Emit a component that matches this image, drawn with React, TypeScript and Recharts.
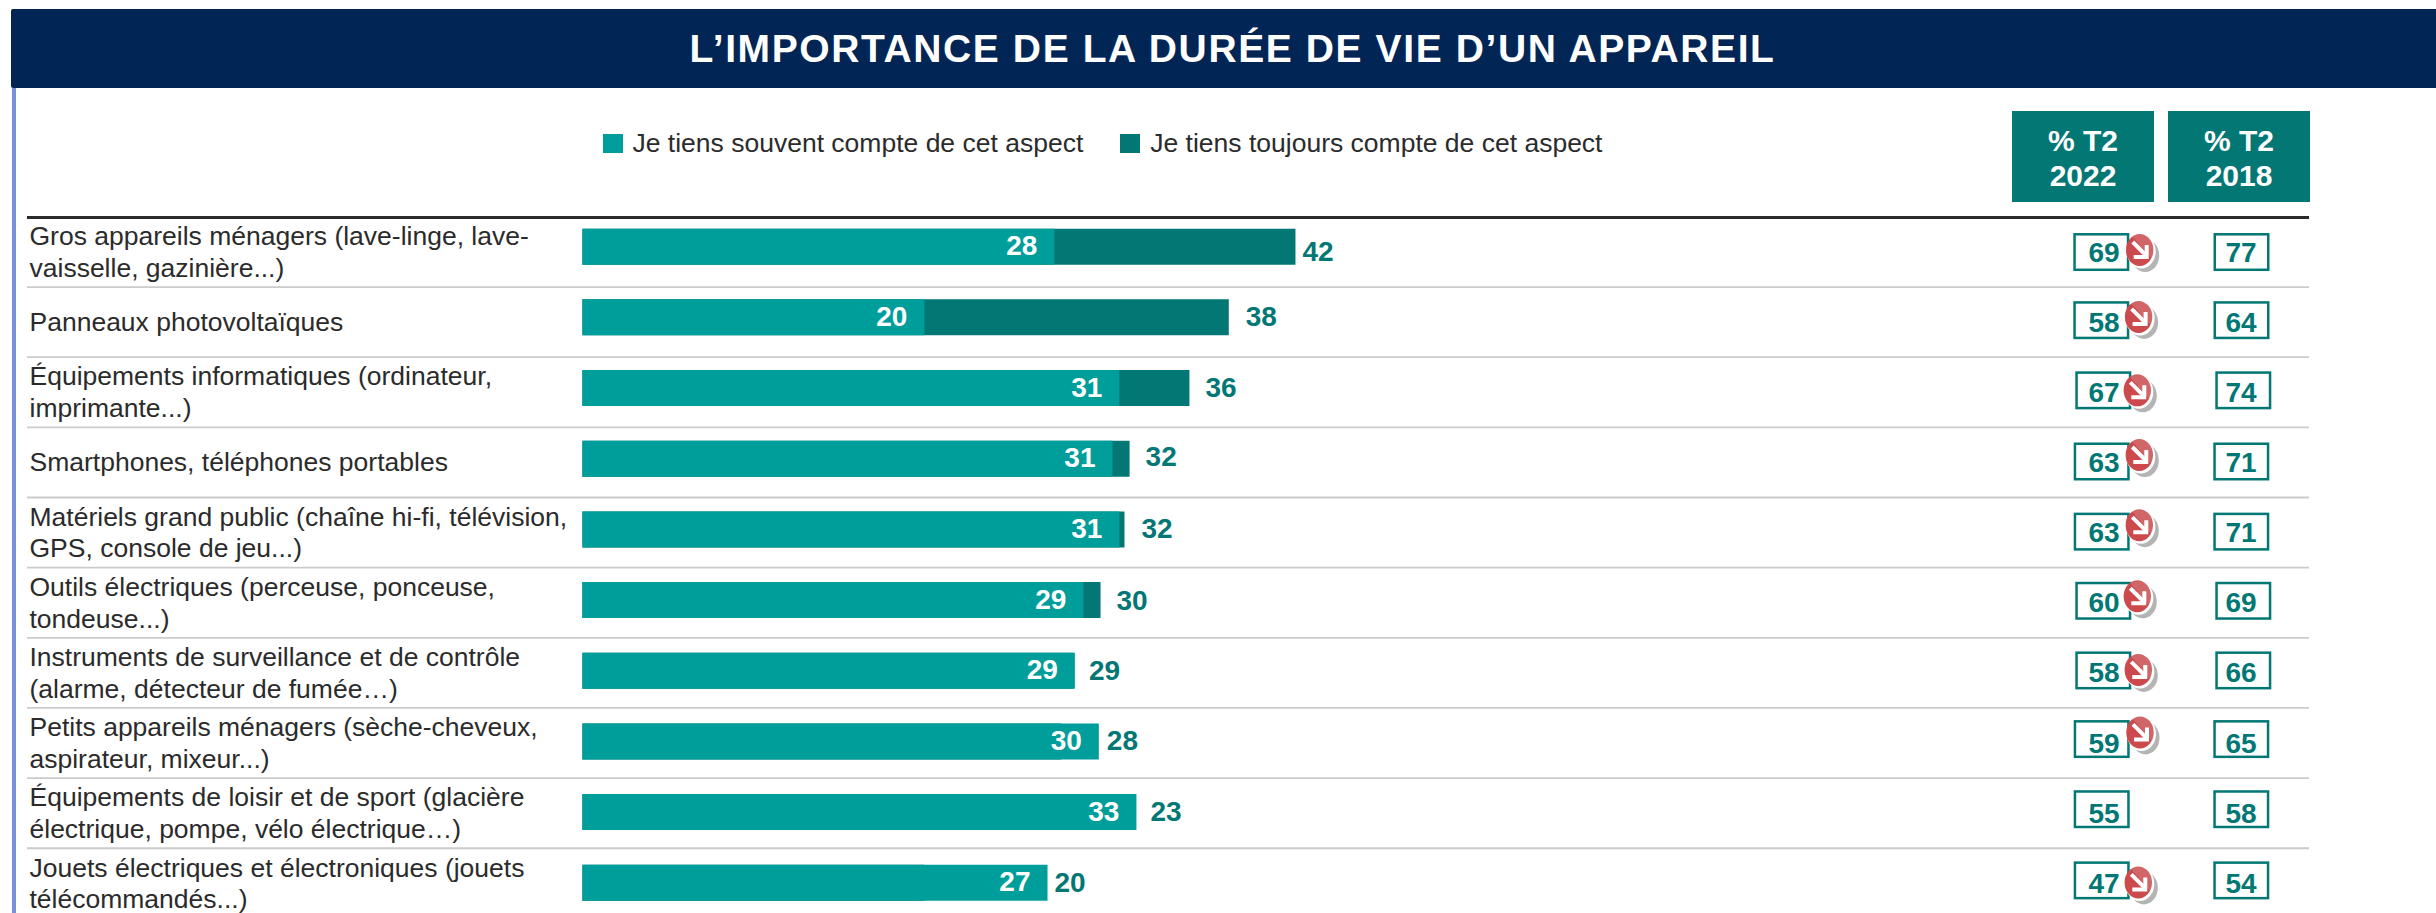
import { Bar, BarChart, LabelList, Legend, XAxis, YAxis } from 'recharts';

// bar lengths are read from the picture, the printed labels do not always round to them
const categories = [
  'Gros appareils ménagers (lave-linge, lave-\nvaisselle, gazinière...)',
  'Panneaux photovoltaïques',
  'Équipements informatiques (ordinateur,\nimprimante...)',
  'Smartphones, téléphones portables',
  'Matériels grand public (chaîne hi-fi, télévision,\nGPS, console de jeu...)',
  'Outils électriques (perceuse, ponceuse,\ntondeuse...)',
  'Instruments de surveillance et de contrôle\n(alarme, détecteur de fumée…)',
  'Petits appareils ménagers (sèche-cheveux,\naspirateur, mixeur...)',
  'Équipements de loisir et de sport (glacière\nélectrique, pompe, vélo électrique…)',
  'Jouets électriques et électroniques (jouets\ntélécommandés...)',
];
const souvent = [27.6, 20.0, 31.4, 31.0, 31.4, 29.3, 28.8, 30.2, 32.4, 27.2];
const toujours = [41.7, 37.8, 35.5, 32.0, 31.7, 30.3, 28.7, 28.0, 23.0, 20.0];
const souventLabels = [28, 20, 31, 31, 31, 29, 29, 30, 33, 27];
const toujoursLabels = [42, 38, 36, 32, 32, 30, 29, 28, 23, 20];
const t2_2022 = [69, 58, 67, 63, 63, 60, 58, 59, 55, 47];
const t2_2018 = [77, 64, 74, 71, 71, 69, 66, 65, 58, 54];
const baisse = [true, true, true, true, true, true, true, true, false, true];

const SOUVENT_NAME = 'Je tiens souvent compte de cet aspect';
const TOUJOURS_NAME = 'Je tiens toujours compte de cet aspect';

// hand placed offsets of the original slide, per row
const outerGap = [7, 17, 16, 16, 17, 16, 14, 8, 14, 7];
const outerDy = [5, -1, -1, -2, -1, 0, 0, -1, -1, 0];
const boxDy = [0, -2, -2, -1, -1, -2, -2.5, -4, -4, -3];
const box22Dx = [0, 0, 2, 0.4, 0.4, 2, 2, 0.4, 0.4, 0.4];
const box18Dx = [0, 0, 1.8, -0.2, -0.2, 1.8, 1.8, -0.2, -0.2, -0.2];
const arrowDx = [10.4, 9.3, 6, 9.6, 9.6, 6, 7, 10.3, 0, 8.6];
const arrowDy = [-2, -3.3, 0, -6.5, -6.5, -4.5, -0.5, -6.7, 0, 2];

const FONT = '"Liberation Sans", Arial, sans-serif';
const LIGHT = '#009e9b';
const DARK = '#027774';

const chartData = categories.map((name, i) => ({
  name,
  souvent: souvent[i],
  toujours: toujours[i],
}));

function ValueBox({ x, cy, textX, textY, value }: any) {
  return (
    <g>
      <rect x={x + 1.25} y={cy - 17.75} width={53.5} height={35.5} fill="none" stroke={DARK} strokeWidth={2.5} />
      <text
        x={textX}
        y={textY}
        textAnchor="middle"
        dominantBaseline="central"
        fontFamily={FONT}
        fontSize={28}
        fontWeight={700}
        fill={DARK}
      >
        {value}
      </text>
    </g>
  );
}

function DownBadge({ cx, cy, id }: any) {
  return (
    <g transform={`translate(${cx},${cy})`}>
      <defs>
        <linearGradient id={id} x1="1" y1="0" x2="0" y2="1">
          <stop offset="0.42" stopColor="#d06668" />
          <stop offset="0.42" stopColor="#cc4a4d" />
        </linearGradient>
      </defs>
      <ellipse cx={5.5} cy={5.5} rx={14} ry={16.5} fill="#b4b4b4" />
      <ellipse cx={1.5} cy={1.5} rx={14.5} ry={17} fill="#fff" />
      <ellipse cx={0} cy={0} rx={13.7} ry={16} fill={`url(#${id})`} />
      <line x1={-7} y1={-8} x2={6} y2={5} stroke="#fff" strokeWidth={4} />
      <polyline points="7,-5 7,7 -6,7" fill="none" stroke="#fff" strokeWidth={4} />
    </g>
  );
}

// one table row: category text, separator, and the two % T2 columns
function RowTick(props: any) {
  const { y, index, payload } = props;
  const rowY = y + 5 - 0.52 * index;
  const lines = String(payload.value).split('\n');
  const boxY = rowY + boxDy[index];
  const left22 = 2073.3 + box22Dx[index];
  const left18 = 2213.5 + box18Dx[index];
  return (
    <g>
      <text fontFamily={FONT} fontSize={26.5} fill="#2b2b2b" dominantBaseline="central">
        {lines.map((line, i) => (
          <tspan key={i} x={29.5} y={rowY + (i - (lines.length - 1) / 2) * 31.7}>
            {line}
          </tspan>
        ))}
      </text>
      <line x1={27} x2={2309} y1={rowY + 35} y2={rowY + 35} stroke="#cbcbcb" strokeWidth={1.8} />
      <ValueBox x={left22} cy={boxY} textX={2104} textY={rowY} value={t2_2022[index]} />
      <ValueBox x={left18} cy={boxY} textX={2241} textY={rowY} value={t2_2018[index]} />
      {baisse[index] && (
        <DownBadge cx={left22 + 56 + arrowDx[index]} cy={boxY + arrowDy[index]} id={`baisse-${index}`} />
      )}
    </g>
  );
}

// both labels hang on the front bar, the outer one sits past whichever bar is longer
function RowLabels(props: any) {
  const { x, y, width, height, index } = props;
  const perUnit = width / souvent[index];
  const end = x + Math.max(souvent[index], toujours[index]) * perUnit;
  const midY = y + height / 2;
  return (
    <g fontFamily={FONT} fontSize={28} fontWeight={700}>
      <text x={x + width - 17} y={midY - 1} textAnchor="end" dominantBaseline="central" fill="#fff">
        {souventLabels[index]}
      </text>
      <text x={end + outerGap[index]} y={midY + outerDy[index]} dominantBaseline="central" fill={DARK}>
        {toujoursLabels[index]}
      </text>
    </g>
  );
}

function LegendRow({ payload }: any) {
  const items = [...(payload ?? [])].sort((a, b) => (a.value === SOUVENT_NAME ? -1 : b.value === SOUVENT_NAME ? 1 : 0));
  return (
    <div style={{ display: 'flex', fontFamily: FONT, fontSize: 26.5, color: '#2b2b2b', lineHeight: '30px' }}>
      {items.map((item: any, i: number) => (
        <div key={item.value} style={{ display: 'flex', alignItems: 'center', marginLeft: i ? 37 : 0, whiteSpace: 'nowrap' }}>
          <span style={{ width: 20, height: 19, background: item.color, marginRight: 10 }} />
          {item.value}
        </div>
      ))}
    </div>
  );
}

const headBox = (left: number, lines: string[]) => (
  <div
    style={{
      position: 'absolute',
      left,
      top: 111,
      width: 142,
      height: 91,
      background: DARK,
      color: '#fff',
      fontFamily: FONT,
      fontWeight: 700,
      fontSize: 30,
      lineHeight: '35px',
      textAlign: 'center',
      paddingTop: 12,
      boxSizing: 'border-box',
    }}
  >
    {lines.map((l) => (
      <div key={l}>{l}</div>
    ))}
  </div>
);

export default function App() {
  return (
    <div style={{ position: 'absolute', left: 0, top: 0, width: 2436, height: 913, overflow: 'hidden', background: '#fff' }}>
      <div style={{ position: 'absolute', left: 12, top: 88, width: 4, height: 825, background: '#7b90dd' }} />
      <div
        style={{
          position: 'absolute',
          left: 11,
          top: 9,
          width: 2425,
          height: 79,
          background: '#012555',
          borderRadius: '2px 0 0 2px',
          color: '#fff',
          fontFamily: FONT,
          fontWeight: 700,
          fontSize: 39,
          letterSpacing: 1.6,
          lineHeight: '79px',
          textAlign: 'center',
          paddingLeft: 18,
          boxSizing: 'border-box',
          whiteSpace: 'nowrap',
        }}
      >
        L’IMPORTANCE DE LA DURÉE DE VIE D’UN APPAREIL
      </div>
      {headBox(2012, ['% T2', '2022'])}
      {headBox(2168, ['% T2', '2018'])}
      <div style={{ position: 'absolute', left: 27, top: 216, width: 2282, height: 3, background: '#2b2b2b' }} />
      <div style={{ position: 'absolute', left: 0, top: 0 }}>
        <BarChart
          width={2436}
          height={930}
          data={chartData}
          layout="vertical"
          barSize={36}
          barGap={-36}
          margin={{ top: 211.7, right: 143.6, bottom: 11.6, left: 0 }}
        >
          <XAxis type="number" domain={[0, 100]} hide />
          <YAxis
            type="category"
            dataKey="name"
            width={582.4}
            interval={0}
            axisLine={false}
            tickLine={false}
            tick={(p: any) => <RowTick {...p} />}
          />
          <Legend
            layout="horizontal"
            verticalAlign="middle"
            content={(p: any) => <LegendRow {...p} />}
            wrapperStyle={{ left: 602.5, top: 128, width: 1100, bottom: 'auto' }}
          />
          <Bar dataKey="toujours" name={TOUJOURS_NAME} fill={DARK} isAnimationActive={false} />
          <Bar dataKey="souvent" name={SOUVENT_NAME} fill={LIGHT} isAnimationActive={false}>
            <LabelList dataKey="souvent" content={(p: any) => <RowLabels {...p} />} />
          </Bar>
        </BarChart>
      </div>
    </div>
  );
}
